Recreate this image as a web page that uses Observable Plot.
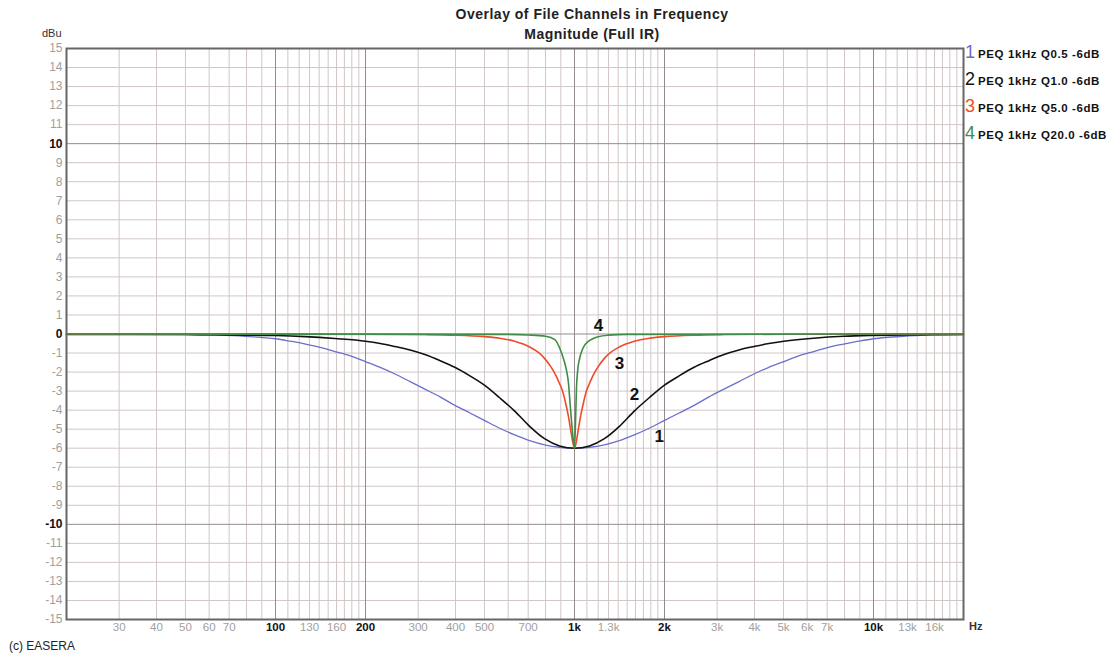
<!DOCTYPE html>
<html>
<head>
<meta charset="utf-8">
<script src="https://cdn.jsdelivr.net/npm/d3@7"></script>
<script src="https://cdn.jsdelivr.net/npm/@observablehq/plot@0.6"></script>
<style>
  html, body { margin: 0; padding: 0; background: #fff; }
  #wrap { position: relative; width: 1117px; height: 661px; overflow: hidden; font-family: "Liberation Sans", Arial, sans-serif; }
  .abs { position: absolute; white-space: nowrap; }
  .title { font-weight: bold; font-size: 14px; letter-spacing: 0.5px; color: #222; transform: translateX(-50%); }
  .leg { font-size: 11.5px; font-weight: bold; letter-spacing: 0.6px; color: #111; display: flex; align-items: baseline; }
  .leg .num { font-size: 18px; font-weight: normal; letter-spacing: 0; margin-right: 3px; }
</style>
</head>
<body>
<div id="wrap"></div>
<script>
// ---- data ----
const seriesNames = ["PEQ 1kHz Q0.5 -6dB", "PEQ 1kHz Q1.0 -6dB", "PEQ 1kHz Q5.0 -6dB", "PEQ 1kHz Q20.0 -6dB"];
const seriesColors = ["#6a70c8", "#111111", "#ee4b2b", "#3f8d47"];

// curve 1 (Q0.5)
const freq1 = [20, 50, 63, 79, 100, 112, 126, 141, 158, 178, 200, 224, 251, 282, 316, 355, 398, 447, 501, 562, 631, 708, 794, 891, 1000, 1122, 1259, 1413, 1585, 1778, 1995, 2239, 2512, 2818, 3162, 3548, 3981, 4467, 5012, 5623, 6310, 7079, 7943, 8913, 10000, 12590, 15850, 20000];
const db1   = [-0.02, -0.03, -0.06, -0.12, -0.25, -0.38, -0.53, -0.7, -0.92, -1.15, -1.45, -1.75, -2.1, -2.5, -2.9, -3.3, -3.75, -4.15, -4.55, -4.95, -5.3, -5.6, -5.82, -5.95, -6.0, -5.95, -5.82, -5.6, -5.3, -4.95, -4.55, -4.15, -3.75, -3.3, -2.9, -2.5, -2.1, -1.75, -1.45, -1.15, -0.92, -0.7, -0.53, -0.38, -0.25, -0.12, -0.06, -0.03];

// curve 2 (Q1.0)
const freq2 = [20, 50, 63, 100, 126, 158, 200, 224, 251, 282, 316, 355, 398, 447, 501, 562, 631, 708, 794, 891, 1000, 1122, 1259, 1413, 1585, 1778, 1995, 2239, 2512, 2818, 3162, 3548, 3981, 4467, 5012, 6310, 7943, 10000, 15850, 20000];
const db2   = [-0.02, -0.03, -0.04, -0.08, -0.14, -0.24, -0.38, -0.5, -0.66, -0.84, -1.08, -1.4, -1.75, -2.2, -2.7, -3.35, -4.05, -4.85, -5.5, -5.88, -6.0, -5.88, -5.5, -4.85, -4.05, -3.35, -2.7, -2.2, -1.75, -1.4, -1.08, -0.84, -0.66, -0.5, -0.38, -0.22, -0.12, -0.07, -0.03, -0.02];

// curve 3 (Q5.0)
const freq3 = [20, 200, 316, 398, 501, 562, 631, 708, 759, 794, 832, 851, 871, 891, 912, 933, 955, 977, 989, 1000, 1012, 1023, 1047, 1072, 1096, 1122, 1148, 1175, 1202, 1259, 1318, 1413, 1585, 1778, 1995, 2512, 3162, 5012, 20000];
const db3   = [0, -0.01, -0.03, -0.06, -0.14, -0.22, -0.38, -0.68, -0.98, -1.28, -1.7, -1.95, -2.25, -2.6, -3.0, -3.6, -4.35, -5.3, -5.75, -6.0, -5.75, -5.3, -4.35, -3.6, -3.0, -2.6, -2.25, -1.95, -1.7, -1.28, -0.98, -0.68, -0.38, -0.22, -0.14, -0.06, -0.03, -0.01, 0];

// curve 4 (Q20.0)
const freq4 = [20, 600, 700, 800, 860, 905, 940, 955, 965, 980, 990, 1000, 1008, 1015, 1025, 1040, 1055, 1080, 1110, 1150, 1200, 1300, 1500, 20000];
const db4   = [0, -0.02, -0.05, -0.12, -0.3, -1.0, -1.9, -2.6, -3.5, -4.8, -5.5, -6.0, -4.6, -2.9, -1.9, -1.3, -0.95, -0.6, -0.4, -0.25, -0.14, -0.06, -0.02, 0];

const curveLabels = ["4", "3", "2", "1"];
const curveLabelFreq = [1203, 1413, 1586, 1922];
const curveLabelDb = [0.47, -1.53, -3.2, -5.4];

const xTickMinor = [30, 40, 50, 60, 70, 130, 160, 300, 400, 500, 700, 1300, 3000, 4000, 5000, 6000, 7000, 13000, 16000];
const xTickMajor = [100, 200, 1000, 2000, 10000];
const yTickMajor = [0, 10, -10];
const yTickMinor = d3.range(-15, 16).filter(v => !yTickMajor.includes(v));

// grid lines (log-paper style)
const xGridMinor = [30, 40, 50, 60, 70, 80, 90, 110, 120, 130, 140, 150, 160, 170, 180, 190, 300, 400, 500, 600, 700, 800, 900, 1100, 1200, 1300, 1400, 1500, 1600, 1700, 1800, 1900, 3000, 4000, 5000, 6000, 7000, 8000, 9000, 11000, 12000, 13000, 14000, 15000, 16000, 17000, 18000, 19000];
const xGridMajor = [100, 200, 1000, 2000, 10000];
const yGridMinor = d3.range(-14, 15).filter(v => !yTickMajor.includes(v));
const yGridMajor = [0, 10, -10];

// ---- build tables ----
const freqs = [freq1, freq2, freq3, freq4];
const dbs = [db1, db2, db3, db4];
const curves = freqs.map((fs, i) => fs.map((f, j) => ({f, db: dbs[i][j], s: i})));
const labelData = curveLabels.map((t, i) => ({t, f: curveLabelFreq[i], db: curveLabelDb[i]}));

const fmt = f => f >= 1000 ? (f / 1000) + "k" : String(f);

const chart = Plot.plot({
  width: 1117,
  height: 661,
  marginLeft: 66,
  marginRight: 154,
  marginTop: 48,
  marginBottom: 42,
  style: {background: "transparent", fontFamily: "'Liberation Sans', Arial, sans-serif"},
  x: {type: "log", domain: [20, 20000], axis: null, label: null},
  y: {domain: [-15, 15], axis: null, label: null},
  marks: [
    Plot.gridX(xGridMinor, {stroke: "#d2c6c6", strokeOpacity: 1, strokeWidth: 1}),
    Plot.gridY(yGridMinor, {stroke: "#d2c6c6", strokeOpacity: 1, strokeWidth: 1}),
    Plot.gridX(xGridMajor, {stroke: "#948c8c", strokeOpacity: 1, strokeWidth: 1}),
    Plot.gridY(yGridMajor, {stroke: "#948c8c", strokeOpacity: 1, strokeWidth: 1}),
    ...curves.map((c, i) => Plot.line(c, {x: "f", y: "db", stroke: seriesColors[i], strokeWidth: i === 0 ? 1.3 : 1.6, curve: "monotone-x"})),
    Plot.text(labelData, {x: "f", y: "db", text: "t", fontSize: 17, fontWeight: "bold", fill: "#111"}),
    Plot.frame({stroke: "#666", strokeWidth: 2}),
    Plot.text(xTickMinor, {x: d => d, text: fmt, frameAnchor: "bottom", dy: 8, lineAnchor: "middle", fontSize: 11.5, fill: "#a0a0a0"}),
    Plot.text(xTickMajor, {x: d => d, text: fmt, frameAnchor: "bottom", dy: 8, lineAnchor: "middle", fontSize: 11.5, fontWeight: "bold", fill: "#111"}),
    Plot.axisY(yTickMinor, {anchor: "left", label: null, tickSize: 0, tickPadding: 4, tickFormat: d => String(d), fontSize: 12, color: "#a0a0a0"}),
    Plot.axisY(yTickMajor, {anchor: "left", label: null, tickSize: 0, tickPadding: 4, tickFormat: d => String(d), fontSize: 12, fontWeight: "bold", color: "#111"})
  ]
});

const wrap = document.getElementById("wrap");
chart.style.position = "absolute";
chart.style.left = "0px";
chart.style.top = "0px";
wrap.appendChild(chart);

function addText(html, x, y, cls, style) {
  const d = document.createElement("div");
  d.className = "abs " + (cls || "");
  d.innerHTML = html;
  d.style.left = x + "px";
  d.style.top = y + "px";
  if (style) Object.assign(d.style, style);
  wrap.appendChild(d);
  return d;
}
addText("Overlay of File Channels in Frequency", 592, 6, "title");
addText("Magnitude (Full IR)", 592, 26, "title");
addText("dBu", 42, 27, "", {fontSize: "11px", color: "#333"});
addText("Hz", 969, 620, "", {fontSize: "11px", fontWeight: "bold", color: "#333"});
addText("(c) EASERA", 9, 639, "", {fontSize: "12px", color: "#222"});

const legendY = [42, 69, 96, 123];
seriesNames.forEach((name, i) => {
  addText(`<span class="num" style="color:${i === 1 ? "#111" : seriesColors[i]}">${i + 1}</span><span>${name}</span>`, 965, legendY[i], "leg");
});
</script>
</body>
</html>
